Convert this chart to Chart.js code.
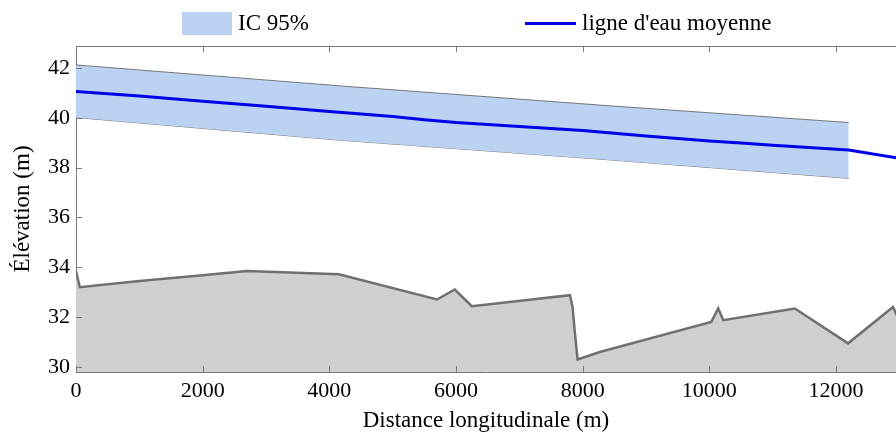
<!DOCTYPE html>
<html>
<head>
<meta charset="utf-8">
<script src="https://cdn.jsdelivr.net/npm/chart.js@4"></script>
<style>
  body { margin: 0; background: #fff; }
  #wrap { position: relative; width: 896px; height: 432px; }
  .leg { position: absolute; font-family: 'Liberation Serif', serif; font-size: 23px; color: #000; line-height: 26px; }
</style>
</head>
<body>
<div id="wrap">
  <canvas id="profil" width="896" height="432"></canvas>
  <div style="position:absolute;left:182px;top:12px;width:50px;height:23px;background:rgb(187,210,242)"></div>
  <div class="leg" style="left:238px;top:10px">IC 95%</div>
  <div style="position:absolute;left:525px;top:22px;width:51px;height:3px;background:rgb(0,0,235)"></div>
  <div class="leg" style="left:582px;top:10px">ligne d'eau moyenne</div>
</div>
<script>
// fond du lit
const distFond = [0, 60, 1000, 2000, 2700, 4150, 5700, 5980, 6250, 7800, 7840, 7880, 7920, 8270, 10030, 10140, 10220, 11350, 12190, 12900, 13100]
const elevFond = [33.85, 33.2, 33.45, 33.68, 33.85, 33.72, 32.71, 33.11, 32.44, 32.88, 32.4, 31.3, 30.3, 30.6, 31.81, 32.35, 31.88, 32.35, 30.95, 32.41, 31.3]

// ligne d'eau moyenne
const distEau = [0, 1000, 2000, 3000, 4000, 5000, 5500, 6000, 7000, 8000, 9000, 10000, 10500, 11000, 12200, 13000]
const elevEau = [41.05, 40.87, 40.66, 40.46, 40.25, 40.05, 39.92, 39.81, 39.65, 39.49, 39.27, 39.07, 38.99, 38.9, 38.71, 38.37]

// intervalle de confiance 95%
const distIC = [0, 4170, 8430, 12200]
const icHaut = [42.12, 41.28, 40.48, 39.81]
const icBas = [40.01, 39.1, 38.31, 37.57]

const xTicks = [0, 2000, 4000, 6000, 8000, 10000, 12000]
const yTicks = [30, 32, 34, 36, 38, 40, 42]

const pts = (xs, ys) => xs.map((x, i) => ({x: x, y: ys[i]}))

const axisGray = '#7a7a7a'
const serif = "'Liberation Serif', 'Times New Roman', serif"

// petits traits de graduation vers l'interieur + cadre du haut
const inwardTicks = {
  id: 'inwardTicks',
  afterDraw(chart) {
    const c = chart.ctx, a = chart.chartArea
    const sx = chart.scales.x, sy = chart.scales.y
    c.save()
    c.strokeStyle = axisGray
    c.lineWidth = 1
    c.beginPath()
    c.moveTo(a.left, a.top + 0.5); c.lineTo(a.right, a.top + 0.5)
    for (const t of xTicks) {
      const px = Math.round(sx.getPixelForValue(t)) + 0.5
      c.moveTo(px, a.bottom); c.lineTo(px, a.bottom - 6)
      c.moveTo(px, a.top); c.lineTo(px, a.top + 6)
    }
    for (const t of yTicks) {
      const py = Math.round(sy.getPixelForValue(t)) + 0.5
      c.moveTo(a.left, py); c.lineTo(a.left + 6, py)
    }
    c.stroke()
    c.restore()
  }
}

new Chart(document.getElementById('profil'), {
  type: 'line',
  data: {
    datasets: [{
      label: "ligne d'eau moyenne",
      data: pts(distEau, elevEau),
      borderColor: 'rgb(0,0,235)',
      borderWidth: 3,
      pointRadius: 0,
      fill: false,
      order: 0
    }, {
      label: 'IC 95%',
      data: pts(distIC, icHaut),
      borderColor: 'rgb(90,90,90)',
      borderWidth: 0.8,
      backgroundColor: 'rgb(187,210,242)',
      pointRadius: 0,
      fill: '+1',
      order: 1
    }, {
      label: 'IC bas',
      data: pts(distIC, icBas),
      borderColor: 'rgb(90,90,90)',
      borderWidth: 0.8,
      pointRadius: 0,
      fill: false,
      order: 2
    }, {
      label: 'fond',
      data: pts(distFond, elevFond),
      borderColor: 'rgb(112,112,112)',
      borderWidth: 2.5,
      backgroundColor: 'rgb(208,208,208)',
      fill: 'start',
      pointRadius: 0,
      order: 3
    }]
  },
  options: {
    responsive: false,
    animation: false,
    layout: { padding: { top: 46, right: 0, left: 0, bottom: 0 } },
    plugins: { legend: { display: false }, tooltip: { enabled: false } },
    scales: {
      x: {
        type: 'linear',
        min: 0,
        max: 12947,
        afterFit: s => { s.height = 60 },
        afterBuildTicks: s => { s.ticks = xTicks.map(v => ({value: v})) },
        grid: { display: false, drawTicks: false },
        border: { display: true, color: axisGray, width: 1 },
        ticks: { color: '#000', font: { family: serif, size: 22 }, padding: 6, maxRotation: 0, autoSkip: false, callback: v => String(v) },
        title: { display: true, text: 'Distance longitudinale (m)', color: '#000', font: { family: serif, size: 23, lineHeight: 1 }, padding: { top: 0, bottom: 0 } }
      },
      y: {
        min: 29.8,
        max: 42.88,
        afterFit: s => { s.width = 76 },
        afterBuildTicks: s => { s.ticks = yTicks.map(v => ({value: v})) },
        grid: { display: false, drawTicks: false },
        border: { display: true, color: axisGray, width: 1 },
        ticks: { color: '#000', font: { family: serif, size: 22 }, padding: 6, callback: v => String(v) },
        title: { display: true, text: 'Élévation (m)', color: '#000', font: { family: serif, size: 23 }, padding: { top: 9, bottom: 0 } }
      }
    }
  },
  plugins: [inwardTicks]
})
</script>
</body>
</html>
